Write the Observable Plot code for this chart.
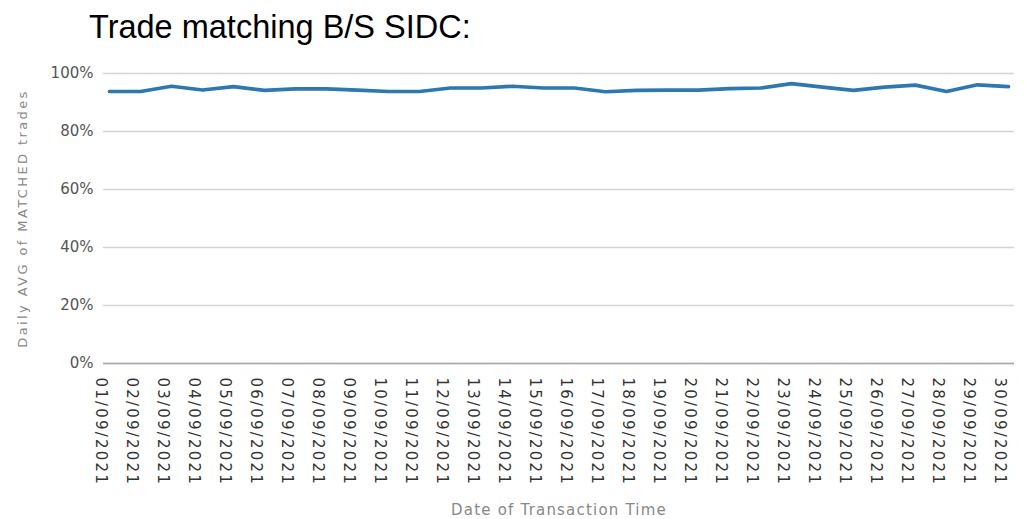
<!DOCTYPE html>
<html><head><meta charset="utf-8">
<script src="https://cdn.jsdelivr.net/npm/d3@7"></script>
<script src="https://cdn.jsdelivr.net/npm/@observablehq/plot@0.6"></script>
<style>
body{margin:0;background:#fff;width:1025px;height:519px;overflow:hidden}
#title{position:relative;height:56px;}
#title span{position:absolute;left:89px;top:11px;font:32.5px/32px "Liberation Sans",Arial,sans-serif;color:#000;white-space:nowrap}
#chart svg{display:block}
g[aria-label="x-axis tick label"] text{letter-spacing:2.2px}
</style></head><body>
<div id="title"><span>Trade matching B/S SIDC:</span></div>
<div id="chart"></div>
<script>
const dates = ["01/09/2021","02/09/2021","03/09/2021","04/09/2021","05/09/2021","06/09/2021","07/09/2021","08/09/2021","09/09/2021","10/09/2021",
  "11/09/2021","12/09/2021","13/09/2021","14/09/2021","15/09/2021","16/09/2021","17/09/2021","18/09/2021","19/09/2021","20/09/2021",
  "21/09/2021","22/09/2021","23/09/2021","24/09/2021","25/09/2021","26/09/2021","27/09/2021","28/09/2021","29/09/2021","30/09/2021"];
const values = [0.938,0.938,0.956,0.943,0.955,0.942,0.947,0.947,0.943,0.938,
  0.938,0.950,0.950,0.956,0.950,0.950,0.937,0.942,0.943,0.943,
  0.948,0.950,0.965,0.953,0.942,0.953,0.960,0.938,0.961,0.955];
const yTicks = [0,0.2,0.4,0.6,0.8,1];
const yLabel = "Daily AVG of MATCHED trades";
const xLabel = "Date of Transaction Time";
const data = dates.map((d,i)=>({date:d, value: values[i]}));
const chart = Plot.plot({
  width:1025, height:463,
  marginTop:17, marginBottom:156, marginLeft:103, marginRight:11,
  style:{fontFamily:"'DejaVu Sans', sans-serif", background:"#fff"},
  x:{type:"point", domain: dates, padding:0},
  y:{domain:[0,1]},
  marks:[
    Plot.gridY(yTicks, {stroke:"#d4d4d4", strokeOpacity:1, strokeWidth:1.3}),
    Plot.ruleY([0], {stroke:"#a8a8a8", strokeWidth:1.6}),
    Plot.axisY(yTicks, {tickSize:0, tickPadding:10, tickFormat: d3.format(".0%"), fill:"#555", fontSize:15, label:null}),
    Plot.axisX({tickSize:0, tickPadding:14, tickRotate:90, textAnchor:"start", lineAnchor:"middle", fontSize:15, fill:"#333", label:null, dx:-9}),
    Plot.text([yLabel], {frameAnchor:"left", rotate:-90, dx:-81, fill:"#888", fontSize:13, textAnchor:"middle", lineAnchor:"middle"}),
    Plot.text([xLabel], {frameAnchor:"bottom", dy:147, fill:"#888", fontSize:15, textAnchor:"middle", lineAnchor:"middle"}),
    Plot.line(data, {x:"date", y:"value", stroke:"#2e78b1", strokeWidth:3.7})
  ]
});
d3.select(chart).selectAll('g[aria-label="text"] text').each(function(){
  const t = d3.select(this);
  t.style("letter-spacing", t.text() === yLabel ? "2.4px" : "1.2px");
});
document.getElementById("chart").appendChild(chart);
</script>
</body></html>
